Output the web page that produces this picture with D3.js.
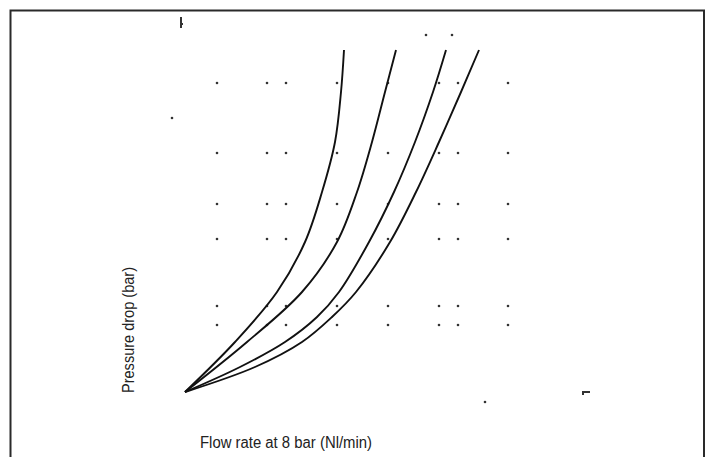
<!DOCTYPE html>
<html>
<head>
<meta charset="utf-8">
<script src="https://cdn.jsdelivr.net/npm/d3@7/dist/d3.min.js"></script>
<style>
  html, body { margin: 0; padding: 0; background: #fff; }
  svg { display: block; }
</style>
</head>
<body>
<script>
// ---- data (flow and pressure drop in arbitrary units; the source shows no tick labels) ----
const xTitle = "Flow rate at 8 bar (Nl/min)";
const yTitle = "Pressure drop (bar)";

const gridX = [32, 82, 101, 152, 203, 254, 273, 323];
const gridY = [309, 239, 188, 153, 86, 67];

// [flow, pressure drop]
const curve1 = [[0,0],[50,50],[92,100],[120,150],[137,200],[150,250],[156,300],[159,342]];
const curve2 = [[0,0],[62,50],[117,100],[152,150],[172,200],[187,250],[200,300],[211,342]];
const curve3 = [[0,0],[55,25],[100,50],[132,75],[154,100],[184,150],[209,200],[230,250],[248,300],[261,342]];
const curve4 = [[0,0],[70,25],[117,50],[147,75],[171,100],[205,150],[231,200],[254,250],[276,300],[294,342]];
const series = [curve1, curve2, curve3, curve4];

// stray scan specks present in the source image
const strayDots = [[-13,274],[241,357],[267,357],[300,-10]];
const strayTicks = [[[-4,364],[-4,375]], [[-4,368],[-2,368]], [[397,0],[405,0]], [[398,0],[398,-3]]];

// ---- drawing ----
const W = 713, H = 457;
const svg = d3.select("body").append("svg").attr("width", W).attr("height", H);
svg.append("rect").attr("width", W).attr("height", H).attr("fill", "#fff");

const x = d3.scaleLinear().domain([0, 500]).range([185, 685]);
const y = d3.scaleLinear().domain([0, 400]).range([392, -8]);

// frame (open at bottom)
svg.append("path")
  .attr("d", `M10.5,${H} L10.5,10.5 L704,10.5 L704,${H}`)
  .attr("fill", "none").attr("stroke", "#2a2a2a").attr("stroke-width", 2);

// grid dots
const gridPts = [];
gridY.forEach(gy => gridX.forEach(gx => gridPts.push([gx, gy])));
svg.append("g").selectAll("circle").data(gridPts).join("circle")
  .attr("cx", d => x(d[0])).attr("cy", d => y(d[1])).attr("r", 1.3).attr("fill", "#333");

svg.append("g").selectAll("circle").data(strayDots).join("circle")
  .attr("cx", d => x(d[0])).attr("cy", d => y(d[1])).attr("r", 1.3).attr("fill", "#333");

svg.append("g").selectAll("line").data(strayTicks).join("line")
  .attr("x1", d => x(d[0][0])).attr("y1", d => y(d[0][1]))
  .attr("x2", d => x(d[1][0])).attr("y2", d => y(d[1][1]))
  .attr("stroke", "#333").attr("stroke-width", 2);

// curves
const line = d3.line().x(d => x(d[0])).y(d => y(d[1])).curve(d3.curveCatmullRom.alpha(0.5));
svg.append("g").selectAll("path").data(series).join("path")
  .attr("d", line).attr("fill", "none").attr("stroke", "#111").attr("stroke-width", 1.9);

// titles
const fontFam = "'Liberation Sans Narrow', 'Liberation Sans', Arial, sans-serif";
svg.append("text").text(xTitle)
  .attr("x", 200).attr("y", 448)
  .attr("font-family", fontFam).attr("font-size", 16).attr("fill", "#222")
  .attr("textLength", 172).attr("lengthAdjust", "spacingAndGlyphs");

svg.append("text").text(yTitle)
  .attr("transform", "translate(134,330) rotate(-90)")
  .attr("text-anchor", "middle")
  .attr("font-family", fontFam).attr("font-size", 16).attr("fill", "#222")
  .attr("textLength", 126).attr("lengthAdjust", "spacingAndGlyphs");
</script>
</body>
</html>
